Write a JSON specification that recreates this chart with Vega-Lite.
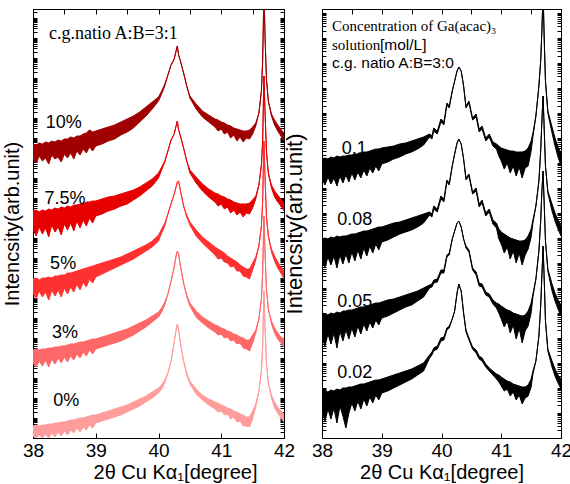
{
"$schema": "https://vega.github.io/schema/vega-lite/v6.json",
"padding": {"left": 2, "top": 8, "right": 5, "bottom": 5},
"config": {
  "view": {"stroke": "black", "strokeWidth": 1},
  "font": "Liberation Sans",
  "axis": {"domain": false, "grid": false, "tickColor": "black", "labelColor": "black", "titleColor": "black", "titleFontWeight": "normal", "labelFont": "Liberation Sans", "titleFont": "Liberation Sans"}
},
"spacing": 38,
"bounds": "flush",
"datasets": {
"left": [
{"s":"10%","x":38,"lo":279,"hi":294},{"s":"10%","x":38.05,"lo":275,"hi":293},{"s":"10%","x":38.1,"lo":282,"hi":295},{"s":"10%","x":38.15,"lo":277,"hi":294},{"s":"10%","x":38.2,"lo":280,"hi":296},{"s":"10%","x":38.25,"lo":274,"hi":295},{"s":"10%","x":38.3,"lo":283,"hi":297},{"s":"10%","x":38.35,"lo":279,"hi":296},{"s":"10%","x":38.4,"lo":281,"hi":298},{"s":"10%","x":38.45,"lo":276,"hi":297},{"s":"10%","x":38.5,"lo":284,"hi":299},{"s":"10%","x":38.55,"lo":280,"hi":299},{"s":"10%","x":38.6,"lo":285,"hi":301},{"s":"10%","x":38.65,"lo":279,"hi":300},{"s":"10%","x":38.7,"lo":287,"hi":302},{"s":"10%","x":38.75,"lo":283,"hi":302},{"s":"10%","x":38.8,"lo":289,"hi":304},{"s":"10%","x":38.85,"lo":285,"hi":305},{"s":"10%","x":38.9,"lo":291,"hi":308},{"s":"10%","x":38.95,"lo":287,"hi":306},{"s":"10%","x":39,"lo":292,"hi":307},{"s":"10%","x":39.1,"lo":294,"hi":309},{"s":"10%","x":39.2,"lo":297,"hi":311},{"s":"10%","x":39.3,"lo":299,"hi":313},{"s":"10%","x":39.4,"lo":303,"hi":316},{"s":"10%","x":39.5,"lo":306,"hi":319},{"s":"10%","x":39.6,"lo":310,"hi":322},{"s":"10%","x":39.7,"lo":316,"hi":326},{"s":"10%","x":39.8,"lo":322,"hi":331},{"s":"10%","x":39.9,"lo":329,"hi":336},{"s":"10%","x":40,"lo":337,"hi":341},{"s":"10%","x":40.05,"lo":344,"hi":347},{"s":"10%","x":40.1,"lo":352,"hi":354},{"s":"10%","x":40.15,"lo":363,"hi":363},{"s":"10%","x":40.2,"lo":373,"hi":373},{"s":"10%","x":40.25,"lo":379,"hi":379},{"s":"10%","x":40.28,"lo":387,"hi":387},{"s":"10%","x":40.3,"lo":392,"hi":392},{"s":"10%","x":40.32,"lo":383,"hi":383},{"s":"10%","x":40.35,"lo":377,"hi":377},{"s":"10%","x":40.4,"lo":365,"hi":365},{"s":"10%","x":40.45,"lo":352,"hi":352},{"s":"10%","x":40.5,"lo":340,"hi":342},{"s":"10%","x":40.6,"lo":329,"hi":334},{"s":"10%","x":40.7,"lo":321,"hi":327},{"s":"10%","x":40.8,"lo":316,"hi":323},{"s":"10%","x":40.9,"lo":311,"hi":319},{"s":"10%","x":40.95,"lo":307,"hi":318},{"s":"10%","x":41,"lo":309,"hi":316},{"s":"10%","x":41.05,"lo":304,"hi":315},{"s":"10%","x":41.1,"lo":306,"hi":313},{"s":"10%","x":41.15,"lo":300,"hi":312},{"s":"10%","x":41.2,"lo":303,"hi":310},{"s":"10%","x":41.25,"lo":297,"hi":309},{"s":"10%","x":41.3,"lo":301,"hi":308},{"s":"10%","x":41.35,"lo":296,"hi":307},{"s":"10%","x":41.4,"lo":300,"hi":307},{"s":"10%","x":41.45,"lo":299,"hi":308},{"s":"10%","x":41.5,"lo":304,"hi":311},{"s":"10%","x":41.55,"lo":312,"hi":315},{"s":"10%","x":41.6,"lo":325,"hi":325},{"s":"10%","x":41.64,"lo":347,"hi":347},{"s":"10%","x":41.66,"lo":377,"hi":377},{"s":"10%","x":41.68,"lo":447,"hi":447},{"s":"10%","x":41.7,"lo":397,"hi":397},{"s":"10%","x":41.72,"lo":359,"hi":359},{"s":"10%","x":41.75,"lo":337,"hi":337},{"s":"10%","x":41.8,"lo":322,"hi":324},{"s":"10%","x":41.85,"lo":313,"hi":318},{"s":"10%","x":41.9,"lo":307,"hi":313},{"s":"10%","x":41.95,"lo":302,"hi":309},{"s":"10%","x":42,"lo":297,"hi":304},
{"s":"7.5%","x":38,"lo":209,"hi":227},{"s":"7.5%","x":38.05,"lo":202,"hi":228},{"s":"7.5%","x":38.1,"lo":211,"hi":226},{"s":"7.5%","x":38.15,"lo":204,"hi":228},{"s":"7.5%","x":38.2,"lo":210,"hi":227},{"s":"7.5%","x":38.25,"lo":201,"hi":229},{"s":"7.5%","x":38.3,"lo":213,"hi":228},{"s":"7.5%","x":38.35,"lo":206,"hi":230},{"s":"7.5%","x":38.4,"lo":211,"hi":229},{"s":"7.5%","x":38.45,"lo":203,"hi":231},{"s":"7.5%","x":38.5,"lo":214,"hi":230},{"s":"7.5%","x":38.55,"lo":208,"hi":232},{"s":"7.5%","x":38.6,"lo":215,"hi":231},{"s":"7.5%","x":38.65,"lo":207,"hi":233},{"s":"7.5%","x":38.7,"lo":217,"hi":233},{"s":"7.5%","x":38.75,"lo":210,"hi":234},{"s":"7.5%","x":38.8,"lo":218,"hi":234},{"s":"7.5%","x":38.85,"lo":212,"hi":236},{"s":"7.5%","x":38.9,"lo":220,"hi":236},{"s":"7.5%","x":38.95,"lo":215,"hi":237},{"s":"7.5%","x":39,"lo":222,"hi":237},{"s":"7.5%","x":39.1,"lo":224,"hi":239},{"s":"7.5%","x":39.2,"lo":227,"hi":241},{"s":"7.5%","x":39.3,"lo":229,"hi":242},{"s":"7.5%","x":39.4,"lo":232,"hi":244},{"s":"7.5%","x":39.5,"lo":234,"hi":246},{"s":"7.5%","x":39.6,"lo":238,"hi":248},{"s":"7.5%","x":39.7,"lo":242,"hi":251},{"s":"7.5%","x":39.8,"lo":247,"hi":255},{"s":"7.5%","x":39.9,"lo":252,"hi":259},{"s":"7.5%","x":40,"lo":260,"hi":265},{"s":"7.5%","x":40.05,"lo":268,"hi":271},{"s":"7.5%","x":40.1,"lo":276,"hi":277},{"s":"7.5%","x":40.15,"lo":287,"hi":287},{"s":"7.5%","x":40.2,"lo":298,"hi":298},{"s":"7.5%","x":40.25,"lo":304,"hi":304},{"s":"7.5%","x":40.28,"lo":312,"hi":312},{"s":"7.5%","x":40.3,"lo":317,"hi":317},{"s":"7.5%","x":40.32,"lo":308,"hi":308},{"s":"7.5%","x":40.35,"lo":302,"hi":302},{"s":"7.5%","x":40.4,"lo":290,"hi":290},{"s":"7.5%","x":40.45,"lo":277,"hi":277},{"s":"7.5%","x":40.5,"lo":265,"hi":268},{"s":"7.5%","x":40.6,"lo":255,"hi":261},{"s":"7.5%","x":40.7,"lo":247,"hi":254},{"s":"7.5%","x":40.8,"lo":241,"hi":249},{"s":"7.5%","x":40.9,"lo":236,"hi":245},{"s":"7.5%","x":40.95,"lo":232,"hi":244},{"s":"7.5%","x":41,"lo":234,"hi":242},{"s":"7.5%","x":41.05,"lo":229,"hi":241},{"s":"7.5%","x":41.1,"lo":231,"hi":239},{"s":"7.5%","x":41.15,"lo":225,"hi":238},{"s":"7.5%","x":41.2,"lo":228,"hi":236},{"s":"7.5%","x":41.25,"lo":223,"hi":235},{"s":"7.5%","x":41.3,"lo":226,"hi":234},{"s":"7.5%","x":41.35,"lo":221,"hi":234},{"s":"7.5%","x":41.4,"lo":225,"hi":234},{"s":"7.5%","x":41.45,"lo":224,"hi":235},{"s":"7.5%","x":41.5,"lo":230,"hi":238},{"s":"7.5%","x":41.55,"lo":239,"hi":242},{"s":"7.5%","x":41.6,"lo":253,"hi":253},{"s":"7.5%","x":41.64,"lo":273,"hi":273},{"s":"7.5%","x":41.66,"lo":297,"hi":297},{"s":"7.5%","x":41.68,"lo":362,"hi":362},{"s":"7.5%","x":41.7,"lo":322,"hi":322},{"s":"7.5%","x":41.72,"lo":287,"hi":287},{"s":"7.5%","x":41.75,"lo":265,"hi":265},{"s":"7.5%","x":41.8,"lo":250,"hi":253},{"s":"7.5%","x":41.85,"lo":241,"hi":247},{"s":"7.5%","x":41.9,"lo":236,"hi":243},{"s":"7.5%","x":41.95,"lo":232,"hi":239},{"s":"7.5%","x":42,"lo":227,"hi":235},
{"s":"5%","x":38,"lo":145,"hi":159},{"s":"5%","x":38.05,"lo":139,"hi":160},{"s":"5%","x":38.1,"lo":147,"hi":158},{"s":"5%","x":38.15,"lo":141,"hi":160},{"s":"5%","x":38.2,"lo":146,"hi":160},{"s":"5%","x":38.25,"lo":138,"hi":161},{"s":"5%","x":38.3,"lo":148,"hi":160},{"s":"5%","x":38.35,"lo":142,"hi":162},{"s":"5%","x":38.4,"lo":148,"hi":162},{"s":"5%","x":38.45,"lo":141,"hi":163},{"s":"5%","x":38.5,"lo":150,"hi":163},{"s":"5%","x":38.55,"lo":144,"hi":165},{"s":"5%","x":38.6,"lo":151,"hi":165},{"s":"5%","x":38.65,"lo":146,"hi":166},{"s":"5%","x":38.7,"lo":154,"hi":167},{"s":"5%","x":38.75,"lo":148,"hi":168},{"s":"5%","x":38.8,"lo":156,"hi":169},{"s":"5%","x":38.85,"lo":151,"hi":170},{"s":"5%","x":38.9,"lo":159,"hi":171},{"s":"5%","x":38.95,"lo":155,"hi":172},{"s":"5%","x":39,"lo":161,"hi":173},{"s":"5%","x":39.1,"lo":164,"hi":175},{"s":"5%","x":39.2,"lo":167,"hi":177},{"s":"5%","x":39.3,"lo":170,"hi":179},{"s":"5%","x":39.4,"lo":173,"hi":181},{"s":"5%","x":39.5,"lo":176,"hi":184},{"s":"5%","x":39.6,"lo":179,"hi":187},{"s":"5%","x":39.7,"lo":183,"hi":190},{"s":"5%","x":39.8,"lo":187,"hi":193},{"s":"5%","x":39.9,"lo":191,"hi":197},{"s":"5%","x":40,"lo":197,"hi":203},{"s":"5%","x":40.05,"lo":205,"hi":209},{"s":"5%","x":40.1,"lo":212,"hi":215},{"s":"5%","x":40.15,"lo":224,"hi":224},{"s":"5%","x":40.2,"lo":234,"hi":234},{"s":"5%","x":40.25,"lo":244,"hi":244},{"s":"5%","x":40.28,"lo":251,"hi":251},{"s":"5%","x":40.3,"lo":256,"hi":256},{"s":"5%","x":40.32,"lo":257,"hi":257},{"s":"5%","x":40.35,"lo":247,"hi":247},{"s":"5%","x":40.4,"lo":232,"hi":232},{"s":"5%","x":40.45,"lo":221,"hi":223},{"s":"5%","x":40.5,"lo":213,"hi":216},{"s":"5%","x":40.6,"lo":202,"hi":208},{"s":"5%","x":40.7,"lo":195,"hi":201},{"s":"5%","x":40.8,"lo":189,"hi":196},{"s":"5%","x":40.9,"lo":183,"hi":191},{"s":"5%","x":40.95,"lo":179,"hi":189},{"s":"5%","x":41,"lo":180,"hi":187},{"s":"5%","x":41.05,"lo":176,"hi":185},{"s":"5%","x":41.1,"lo":175,"hi":182},{"s":"5%","x":41.15,"lo":171,"hi":180},{"s":"5%","x":41.2,"lo":172,"hi":178},{"s":"5%","x":41.25,"lo":167,"hi":176},{"s":"5%","x":41.3,"lo":167,"hi":173},{"s":"5%","x":41.35,"lo":162,"hi":171},{"s":"5%","x":41.4,"lo":161,"hi":169},{"s":"5%","x":41.45,"lo":159,"hi":169},{"s":"5%","x":41.5,"lo":168,"hi":175},{"s":"5%","x":41.55,"lo":178,"hi":181},{"s":"5%","x":41.6,"lo":192,"hi":192},{"s":"5%","x":41.64,"lo":212,"hi":212},{"s":"5%","x":41.66,"lo":237,"hi":237},{"s":"5%","x":41.68,"lo":297,"hi":297},{"s":"5%","x":41.7,"lo":257,"hi":257},{"s":"5%","x":41.72,"lo":222,"hi":222},{"s":"5%","x":41.75,"lo":202,"hi":202},{"s":"5%","x":41.8,"lo":186,"hi":189},{"s":"5%","x":41.85,"lo":177,"hi":182},{"s":"5%","x":41.9,"lo":170,"hi":176},{"s":"5%","x":41.95,"lo":165,"hi":171},{"s":"5%","x":42,"lo":159,"hi":167},
{"s":"3%","x":38,"lo":75,"hi":88},{"s":"3%","x":38.05,"lo":71,"hi":89},{"s":"3%","x":38.1,"lo":77,"hi":88},{"s":"3%","x":38.15,"lo":72,"hi":89},{"s":"3%","x":38.2,"lo":78,"hi":89},{"s":"3%","x":38.25,"lo":71,"hi":90},{"s":"3%","x":38.3,"lo":79,"hi":90},{"s":"3%","x":38.35,"lo":74,"hi":91},{"s":"3%","x":38.4,"lo":80,"hi":91},{"s":"3%","x":38.45,"lo":75,"hi":92},{"s":"3%","x":38.5,"lo":81,"hi":92},{"s":"3%","x":38.55,"lo":76,"hi":93},{"s":"3%","x":38.6,"lo":82,"hi":94},{"s":"3%","x":38.65,"lo":78,"hi":94},{"s":"3%","x":38.7,"lo":84,"hi":95},{"s":"3%","x":38.75,"lo":80,"hi":96},{"s":"3%","x":38.8,"lo":86,"hi":96},{"s":"3%","x":38.85,"lo":82,"hi":97},{"s":"3%","x":38.9,"lo":88,"hi":98},{"s":"3%","x":38.95,"lo":84,"hi":99},{"s":"3%","x":39,"lo":89,"hi":99},{"s":"3%","x":39.1,"lo":91,"hi":101},{"s":"3%","x":39.2,"lo":93,"hi":103},{"s":"3%","x":39.3,"lo":95,"hi":105},{"s":"3%","x":39.4,"lo":97,"hi":107},{"s":"3%","x":39.5,"lo":100,"hi":109},{"s":"3%","x":39.6,"lo":103,"hi":112},{"s":"3%","x":39.7,"lo":107,"hi":115},{"s":"3%","x":39.8,"lo":111,"hi":118},{"s":"3%","x":39.9,"lo":116,"hi":122},{"s":"3%","x":40,"lo":121,"hi":126},{"s":"3%","x":40.05,"lo":126,"hi":130},{"s":"3%","x":40.1,"lo":133,"hi":136},{"s":"3%","x":40.15,"lo":144,"hi":144},{"s":"3%","x":40.2,"lo":157,"hi":157},{"s":"3%","x":40.25,"lo":171,"hi":171},{"s":"3%","x":40.28,"lo":182,"hi":182},{"s":"3%","x":40.3,"lo":187,"hi":187},{"s":"3%","x":40.32,"lo":184,"hi":184},{"s":"3%","x":40.35,"lo":172,"hi":172},{"s":"3%","x":40.4,"lo":155,"hi":155},{"s":"3%","x":40.45,"lo":141,"hi":143},{"s":"3%","x":40.5,"lo":132,"hi":135},{"s":"3%","x":40.6,"lo":121,"hi":127},{"s":"3%","x":40.7,"lo":115,"hi":121},{"s":"3%","x":40.8,"lo":110,"hi":117},{"s":"3%","x":40.9,"lo":106,"hi":113},{"s":"3%","x":40.95,"lo":103,"hi":112},{"s":"3%","x":41,"lo":104,"hi":110},{"s":"3%","x":41.05,"lo":100,"hi":109},{"s":"3%","x":41.1,"lo":101,"hi":107},{"s":"3%","x":41.15,"lo":97,"hi":106},{"s":"3%","x":41.2,"lo":98,"hi":104},{"s":"3%","x":41.25,"lo":94,"hi":103},{"s":"3%","x":41.3,"lo":95,"hi":101},{"s":"3%","x":41.35,"lo":90,"hi":100},{"s":"3%","x":41.4,"lo":89,"hi":98},{"s":"3%","x":41.45,"lo":87,"hi":98},{"s":"3%","x":41.5,"lo":95,"hi":103},{"s":"3%","x":41.55,"lo":105,"hi":108},{"s":"3%","x":41.6,"lo":119,"hi":119},{"s":"3%","x":41.64,"lo":139,"hi":139},{"s":"3%","x":41.66,"lo":165,"hi":165},{"s":"3%","x":41.68,"lo":222,"hi":222},{"s":"3%","x":41.7,"lo":182,"hi":182},{"s":"3%","x":41.72,"lo":149,"hi":149},{"s":"3%","x":41.75,"lo":129,"hi":129},{"s":"3%","x":41.8,"lo":114,"hi":117},{"s":"3%","x":41.85,"lo":105,"hi":110},{"s":"3%","x":41.9,"lo":99,"hi":105},{"s":"3%","x":41.95,"lo":95,"hi":101},{"s":"3%","x":42,"lo":91,"hi":99},
{"s":"0%","x":38,"lo":2,"hi":12},{"s":"0%","x":38.05,"lo":0,"hi":13},{"s":"0%","x":38.1,"lo":3,"hi":12},{"s":"0%","x":38.15,"lo":0,"hi":13},{"s":"0%","x":38.2,"lo":4,"hi":13},{"s":"0%","x":38.25,"lo":0,"hi":14},{"s":"0%","x":38.3,"lo":5,"hi":14},{"s":"0%","x":38.35,"lo":1,"hi":15},{"s":"0%","x":38.4,"lo":6,"hi":15},{"s":"0%","x":38.45,"lo":2,"hi":16},{"s":"0%","x":38.5,"lo":7,"hi":16},{"s":"0%","x":38.55,"lo":3,"hi":17},{"s":"0%","x":38.6,"lo":8,"hi":18},{"s":"0%","x":38.65,"lo":5,"hi":18},{"s":"0%","x":38.7,"lo":10,"hi":19},{"s":"0%","x":38.75,"lo":6,"hi":20},{"s":"0%","x":38.8,"lo":11,"hi":20},{"s":"0%","x":38.85,"lo":8,"hi":21},{"s":"0%","x":38.9,"lo":13,"hi":22},{"s":"0%","x":38.95,"lo":10,"hi":23},{"s":"0%","x":39,"lo":15,"hi":23},{"s":"0%","x":39.1,"lo":17,"hi":25},{"s":"0%","x":39.2,"lo":19,"hi":27},{"s":"0%","x":39.3,"lo":21,"hi":29},{"s":"0%","x":39.4,"lo":23,"hi":31},{"s":"0%","x":39.5,"lo":26,"hi":33},{"s":"0%","x":39.6,"lo":29,"hi":36},{"s":"0%","x":39.7,"lo":32,"hi":39},{"s":"0%","x":39.8,"lo":36,"hi":42},{"s":"0%","x":39.9,"lo":40,"hi":46},{"s":"0%","x":40,"lo":45,"hi":50},{"s":"0%","x":40.05,"lo":49,"hi":53},{"s":"0%","x":40.1,"lo":55,"hi":58},{"s":"0%","x":40.15,"lo":65,"hi":65},{"s":"0%","x":40.2,"lo":77,"hi":77},{"s":"0%","x":40.25,"lo":96,"hi":96},{"s":"0%","x":40.28,"lo":108,"hi":108},{"s":"0%","x":40.3,"lo":114,"hi":114},{"s":"0%","x":40.32,"lo":108,"hi":108},{"s":"0%","x":40.35,"lo":95,"hi":95},{"s":"0%","x":40.4,"lo":77,"hi":77},{"s":"0%","x":40.45,"lo":63,"hi":65},{"s":"0%","x":40.5,"lo":54,"hi":57},{"s":"0%","x":40.6,"lo":44,"hi":49},{"s":"0%","x":40.7,"lo":38,"hi":43},{"s":"0%","x":40.8,"lo":33,"hi":39},{"s":"0%","x":40.9,"lo":29,"hi":36},{"s":"0%","x":40.95,"lo":26,"hi":35},{"s":"0%","x":41,"lo":27,"hi":33},{"s":"0%","x":41.05,"lo":23,"hi":32},{"s":"0%","x":41.1,"lo":24,"hi":30},{"s":"0%","x":41.15,"lo":19,"hi":29},{"s":"0%","x":41.2,"lo":21,"hi":27},{"s":"0%","x":41.25,"lo":16,"hi":26},{"s":"0%","x":41.3,"lo":17,"hi":24},{"s":"0%","x":41.35,"lo":12,"hi":23},{"s":"0%","x":41.4,"lo":12,"hi":21},{"s":"0%","x":41.45,"lo":11,"hi":21},{"s":"0%","x":41.5,"lo":19,"hi":27},{"s":"0%","x":41.55,"lo":31,"hi":34},{"s":"0%","x":41.6,"lo":47,"hi":47},{"s":"0%","x":41.64,"lo":67,"hi":67},{"s":"0%","x":41.66,"lo":92,"hi":92},{"s":"0%","x":41.68,"lo":147,"hi":147},{"s":"0%","x":41.7,"lo":107,"hi":107},{"s":"0%","x":41.72,"lo":75,"hi":75},{"s":"0%","x":41.75,"lo":55,"hi":55},{"s":"0%","x":41.8,"lo":40,"hi":43},{"s":"0%","x":41.85,"lo":30,"hi":36},{"s":"0%","x":41.9,"lo":25,"hi":31},{"s":"0%","x":41.95,"lo":20,"hi":27},{"s":"0%","x":42,"lo":16,"hi":24}
],
"right": [
{"s":"0.1","x":38,"lo":259,"hi":279},{"s":"0.1","x":38.05,"lo":253,"hi":280},{"s":"0.1","x":38.1,"lo":261,"hi":279},{"s":"0.1","x":38.15,"lo":254,"hi":281},{"s":"0.1","x":38.2,"lo":260,"hi":280},{"s":"0.1","x":38.25,"lo":252,"hi":282},{"s":"0.1","x":38.3,"lo":262,"hi":281},{"s":"0.1","x":38.35,"lo":255,"hi":282},{"s":"0.1","x":38.4,"lo":263,"hi":282},{"s":"0.1","x":38.45,"lo":256,"hi":283},{"s":"0.1","x":38.5,"lo":265,"hi":283},{"s":"0.1","x":38.55,"lo":258,"hi":284},{"s":"0.1","x":38.6,"lo":266,"hi":284},{"s":"0.1","x":38.65,"lo":260,"hi":285},{"s":"0.1","x":38.7,"lo":268,"hi":286},{"s":"0.1","x":38.75,"lo":262,"hi":286},{"s":"0.1","x":38.8,"lo":270,"hi":287},{"s":"0.1","x":38.85,"lo":265,"hi":288},{"s":"0.1","x":38.9,"lo":272,"hi":289},{"s":"0.1","x":38.95,"lo":267,"hi":289},{"s":"0.1","x":39,"lo":274,"hi":290},{"s":"0.1","x":39.1,"lo":276,"hi":291},{"s":"0.1","x":39.2,"lo":279,"hi":292},{"s":"0.1","x":39.3,"lo":281,"hi":294},{"s":"0.1","x":39.4,"lo":284,"hi":295},{"s":"0.1","x":39.5,"lo":286,"hi":297},{"s":"0.1","x":39.6,"lo":289,"hi":299},{"s":"0.1","x":39.7,"lo":293,"hi":301},{"s":"0.1","x":39.8,"lo":301,"hi":304},{"s":"0.1","x":39.84,"lo":299,"hi":302},{"s":"0.1","x":39.87,"lo":307,"hi":310},{"s":"0.1","x":39.93,"lo":304,"hi":307},{"s":"0.1","x":39.99,"lo":316,"hi":319},{"s":"0.1","x":40.04,"lo":313,"hi":316},{"s":"0.1","x":40.09,"lo":333,"hi":335},{"s":"0.1","x":40.13,"lo":330,"hi":332},{"s":"0.1","x":40.18,"lo":347,"hi":347},{"s":"0.1","x":40.22,"lo":357,"hi":357},{"s":"0.1","x":40.26,"lo":367,"hi":367},{"s":"0.1","x":40.29,"lo":371,"hi":371},{"s":"0.1","x":40.33,"lo":367,"hi":367},{"s":"0.1","x":40.37,"lo":352,"hi":352},{"s":"0.1","x":40.41,"lo":330,"hi":332},{"s":"0.1","x":40.46,"lo":335,"hi":337},{"s":"0.1","x":40.52,"lo":318,"hi":320},{"s":"0.1","x":40.58,"lo":321,"hi":324},{"s":"0.1","x":40.63,"lo":306,"hi":309},{"s":"0.1","x":40.68,"lo":309,"hi":312},{"s":"0.1","x":40.74,"lo":297,"hi":300},{"s":"0.1","x":40.8,"lo":301,"hi":304},{"s":"0.1","x":40.86,"lo":292,"hi":296},{"s":"0.1","x":40.92,"lo":289,"hi":294},{"s":"0.1","x":40.96,"lo":282,"hi":292},{"s":"0.1","x":41,"lo":277,"hi":290},{"s":"0.1","x":41.05,"lo":269,"hi":289},{"s":"0.1","x":41.1,"lo":275,"hi":288},{"s":"0.1","x":41.15,"lo":265,"hi":287},{"s":"0.1","x":41.2,"lo":272,"hi":287},{"s":"0.1","x":41.25,"lo":262,"hi":286},{"s":"0.1","x":41.3,"lo":271,"hi":286},{"s":"0.1","x":41.35,"lo":260,"hi":286},{"s":"0.1","x":41.4,"lo":270,"hi":287},{"s":"0.1","x":41.45,"lo":272,"hi":290},{"s":"0.1","x":41.5,"lo":287,"hi":297},{"s":"0.1","x":41.53,"lo":301,"hi":305},{"s":"0.1","x":41.58,"lo":322,"hi":322},{"s":"0.1","x":41.63,"lo":352,"hi":352},{"s":"0.1","x":41.66,"lo":377,"hi":377},{"s":"0.1","x":41.68,"lo":407,"hi":407},{"s":"0.1","x":41.7,"lo":447,"hi":447},{"s":"0.1","x":41.72,"lo":397,"hi":397},{"s":"0.1","x":41.74,"lo":357,"hi":357},{"s":"0.1","x":41.78,"lo":325,"hi":327},{"s":"0.1","x":41.85,"lo":305,"hi":311},{"s":"0.1","x":41.9,"lo":292,"hi":300},{"s":"0.1","x":41.95,"lo":281,"hi":291},{"s":"0.1","x":42,"lo":272,"hi":285},
{"s":"0.08","x":38,"lo":179,"hi":199},{"s":"0.08","x":38.05,"lo":171,"hi":200},{"s":"0.08","x":38.1,"lo":181,"hi":199},{"s":"0.08","x":38.15,"lo":173,"hi":201},{"s":"0.08","x":38.2,"lo":182,"hi":200},{"s":"0.08","x":38.25,"lo":170,"hi":202},{"s":"0.08","x":38.3,"lo":183,"hi":201},{"s":"0.08","x":38.35,"lo":174,"hi":202},{"s":"0.08","x":38.4,"lo":184,"hi":202},{"s":"0.08","x":38.45,"lo":175,"hi":203},{"s":"0.08","x":38.5,"lo":186,"hi":204},{"s":"0.08","x":38.55,"lo":177,"hi":204},{"s":"0.08","x":38.6,"lo":188,"hi":205},{"s":"0.08","x":38.65,"lo":179,"hi":206},{"s":"0.08","x":38.7,"lo":190,"hi":207},{"s":"0.08","x":38.75,"lo":182,"hi":207},{"s":"0.08","x":38.8,"lo":192,"hi":208},{"s":"0.08","x":38.85,"lo":185,"hi":209},{"s":"0.08","x":38.9,"lo":194,"hi":210},{"s":"0.08","x":38.95,"lo":188,"hi":211},{"s":"0.08","x":39,"lo":196,"hi":211},{"s":"0.08","x":39.1,"lo":198,"hi":213},{"s":"0.08","x":39.2,"lo":201,"hi":215},{"s":"0.08","x":39.3,"lo":204,"hi":216},{"s":"0.08","x":39.4,"lo":206,"hi":218},{"s":"0.08","x":39.5,"lo":208,"hi":220},{"s":"0.08","x":39.6,"lo":211,"hi":222},{"s":"0.08","x":39.7,"lo":215,"hi":224},{"s":"0.08","x":39.8,"lo":223,"hi":226},{"s":"0.08","x":39.84,"lo":221,"hi":224},{"s":"0.08","x":39.87,"lo":229,"hi":232},{"s":"0.08","x":39.93,"lo":226,"hi":229},{"s":"0.08","x":39.99,"lo":239,"hi":242},{"s":"0.08","x":40.04,"lo":236,"hi":239},{"s":"0.08","x":40.09,"lo":256,"hi":258},{"s":"0.08","x":40.13,"lo":253,"hi":255},{"s":"0.08","x":40.18,"lo":272,"hi":272},{"s":"0.08","x":40.22,"lo":284,"hi":284},{"s":"0.08","x":40.26,"lo":295,"hi":295},{"s":"0.08","x":40.29,"lo":299,"hi":299},{"s":"0.08","x":40.33,"lo":294,"hi":294},{"s":"0.08","x":40.37,"lo":279,"hi":279},{"s":"0.08","x":40.41,"lo":258,"hi":260},{"s":"0.08","x":40.46,"lo":262,"hi":264},{"s":"0.08","x":40.52,"lo":244,"hi":246},{"s":"0.08","x":40.58,"lo":247,"hi":250},{"s":"0.08","x":40.63,"lo":231,"hi":234},{"s":"0.08","x":40.68,"lo":235,"hi":238},{"s":"0.08","x":40.74,"lo":222,"hi":225},{"s":"0.08","x":40.8,"lo":226,"hi":229},{"s":"0.08","x":40.86,"lo":214,"hi":218},{"s":"0.08","x":40.92,"lo":210,"hi":215},{"s":"0.08","x":40.96,"lo":199,"hi":209},{"s":"0.08","x":41,"lo":194,"hi":206},{"s":"0.08","x":41.05,"lo":185,"hi":204},{"s":"0.08","x":41.1,"lo":191,"hi":202},{"s":"0.08","x":41.15,"lo":179,"hi":200},{"s":"0.08","x":41.2,"lo":187,"hi":199},{"s":"0.08","x":41.25,"lo":175,"hi":198},{"s":"0.08","x":41.3,"lo":185,"hi":197},{"s":"0.08","x":41.35,"lo":173,"hi":197},{"s":"0.08","x":41.4,"lo":183,"hi":198},{"s":"0.08","x":41.45,"lo":189,"hi":202},{"s":"0.08","x":41.5,"lo":201,"hi":209},{"s":"0.08","x":41.53,"lo":215,"hi":218},{"s":"0.08","x":41.58,"lo":232,"hi":232},{"s":"0.08","x":41.63,"lo":257,"hi":257},{"s":"0.08","x":41.66,"lo":287,"hi":287},{"s":"0.08","x":41.68,"lo":317,"hi":317},{"s":"0.08","x":41.7,"lo":342,"hi":342},{"s":"0.08","x":41.72,"lo":307,"hi":307},{"s":"0.08","x":41.74,"lo":272,"hi":272},{"s":"0.08","x":41.78,"lo":245,"hi":247},{"s":"0.08","x":41.85,"lo":227,"hi":234},{"s":"0.08","x":41.9,"lo":217,"hi":225},{"s":"0.08","x":41.95,"lo":209,"hi":218},{"s":"0.08","x":42,"lo":202,"hi":212},
{"s":"0.05","x":38,"lo":101,"hi":123},{"s":"0.05","x":38.05,"lo":92,"hi":124},{"s":"0.05","x":38.1,"lo":104,"hi":123},{"s":"0.05","x":38.15,"lo":94,"hi":125},{"s":"0.05","x":38.2,"lo":105,"hi":124},{"s":"0.05","x":38.25,"lo":90,"hi":126},{"s":"0.05","x":38.3,"lo":107,"hi":125},{"s":"0.05","x":38.35,"lo":97,"hi":127},{"s":"0.05","x":38.4,"lo":108,"hi":127},{"s":"0.05","x":38.45,"lo":99,"hi":128},{"s":"0.05","x":38.5,"lo":110,"hi":128},{"s":"0.05","x":38.55,"lo":101,"hi":129},{"s":"0.05","x":38.6,"lo":112,"hi":130},{"s":"0.05","x":38.65,"lo":104,"hi":131},{"s":"0.05","x":38.7,"lo":114,"hi":131},{"s":"0.05","x":38.75,"lo":107,"hi":132},{"s":"0.05","x":38.8,"lo":116,"hi":133},{"s":"0.05","x":38.85,"lo":110,"hi":134},{"s":"0.05","x":38.9,"lo":118,"hi":135},{"s":"0.05","x":38.95,"lo":113,"hi":135},{"s":"0.05","x":39,"lo":120,"hi":136},{"s":"0.05","x":39.1,"lo":122,"hi":138},{"s":"0.05","x":39.2,"lo":125,"hi":139},{"s":"0.05","x":39.3,"lo":128,"hi":141},{"s":"0.05","x":39.4,"lo":131,"hi":143},{"s":"0.05","x":39.5,"lo":133,"hi":145},{"s":"0.05","x":39.6,"lo":137,"hi":147},{"s":"0.05","x":39.7,"lo":141,"hi":150},{"s":"0.05","x":39.8,"lo":150,"hi":153},{"s":"0.05","x":39.84,"lo":151,"hi":154},{"s":"0.05","x":39.87,"lo":155,"hi":158},{"s":"0.05","x":39.93,"lo":156,"hi":159},{"s":"0.05","x":39.99,"lo":165,"hi":168},{"s":"0.05","x":40.04,"lo":165,"hi":168},{"s":"0.05","x":40.09,"lo":181,"hi":183},{"s":"0.05","x":40.13,"lo":183,"hi":185},{"s":"0.05","x":40.18,"lo":199,"hi":199},{"s":"0.05","x":40.22,"lo":207,"hi":207},{"s":"0.05","x":40.26,"lo":215,"hi":215},{"s":"0.05","x":40.29,"lo":217,"hi":217},{"s":"0.05","x":40.33,"lo":211,"hi":211},{"s":"0.05","x":40.37,"lo":199,"hi":199},{"s":"0.05","x":40.41,"lo":190,"hi":192},{"s":"0.05","x":40.46,"lo":186,"hi":188},{"s":"0.05","x":40.52,"lo":168,"hi":170},{"s":"0.05","x":40.58,"lo":163,"hi":166},{"s":"0.05","x":40.63,"lo":152,"hi":155},{"s":"0.05","x":40.68,"lo":151,"hi":154},{"s":"0.05","x":40.74,"lo":143,"hi":146},{"s":"0.05","x":40.8,"lo":141,"hi":144},{"s":"0.05","x":40.86,"lo":134,"hi":138},{"s":"0.05","x":40.92,"lo":130,"hi":135},{"s":"0.05","x":40.96,"lo":125,"hi":134},{"s":"0.05","x":41,"lo":119,"hi":132},{"s":"0.05","x":41.05,"lo":111,"hi":130},{"s":"0.05","x":41.1,"lo":117,"hi":128},{"s":"0.05","x":41.15,"lo":105,"hi":127},{"s":"0.05","x":41.2,"lo":113,"hi":125},{"s":"0.05","x":41.25,"lo":99,"hi":124},{"s":"0.05","x":41.3,"lo":110,"hi":123},{"s":"0.05","x":41.35,"lo":95,"hi":122},{"s":"0.05","x":41.4,"lo":107,"hi":123},{"s":"0.05","x":41.45,"lo":112,"hi":127},{"s":"0.05","x":41.5,"lo":125,"hi":135},{"s":"0.05","x":41.53,"lo":141,"hi":144},{"s":"0.05","x":41.58,"lo":159,"hi":159},{"s":"0.05","x":41.63,"lo":187,"hi":187},{"s":"0.05","x":41.66,"lo":217,"hi":217},{"s":"0.05","x":41.68,"lo":247,"hi":247},{"s":"0.05","x":41.7,"lo":267,"hi":267},{"s":"0.05","x":41.72,"lo":232,"hi":232},{"s":"0.05","x":41.74,"lo":197,"hi":197},{"s":"0.05","x":41.78,"lo":167,"hi":169},{"s":"0.05","x":41.85,"lo":147,"hi":154},{"s":"0.05","x":41.9,"lo":137,"hi":145},{"s":"0.05","x":41.95,"lo":129,"hi":138},{"s":"0.05","x":42,"lo":122,"hi":133},
{"s":"0.02","x":38,"lo":27,"hi":46},{"s":"0.02","x":38.05,"lo":17,"hi":47},{"s":"0.02","x":38.1,"lo":29,"hi":46},{"s":"0.02","x":38.15,"lo":19,"hi":48},{"s":"0.02","x":38.2,"lo":30,"hi":47},{"s":"0.02","x":38.25,"lo":15,"hi":49},{"s":"0.02","x":38.3,"lo":32,"hi":48},{"s":"0.02","x":38.35,"lo":22,"hi":50},{"s":"0.02","x":38.4,"lo":10,"hi":50},{"s":"0.02","x":38.45,"lo":25,"hi":51},{"s":"0.02","x":38.5,"lo":35,"hi":51},{"s":"0.02","x":38.55,"lo":27,"hi":52},{"s":"0.02","x":38.6,"lo":37,"hi":53},{"s":"0.02","x":38.65,"lo":29,"hi":54},{"s":"0.02","x":38.7,"lo":39,"hi":54},{"s":"0.02","x":38.75,"lo":32,"hi":55},{"s":"0.02","x":38.8,"lo":41,"hi":56},{"s":"0.02","x":38.85,"lo":35,"hi":57},{"s":"0.02","x":38.9,"lo":43,"hi":58},{"s":"0.02","x":38.95,"lo":38,"hi":58},{"s":"0.02","x":39,"lo":45,"hi":59},{"s":"0.02","x":39.1,"lo":47,"hi":61},{"s":"0.02","x":39.2,"lo":50,"hi":63},{"s":"0.02","x":39.3,"lo":53,"hi":65},{"s":"0.02","x":39.4,"lo":56,"hi":67},{"s":"0.02","x":39.5,"lo":59,"hi":69},{"s":"0.02","x":39.6,"lo":63,"hi":72},{"s":"0.02","x":39.7,"lo":67,"hi":75},{"s":"0.02","x":39.8,"lo":80,"hi":83},{"s":"0.02","x":39.84,"lo":83,"hi":86},{"s":"0.02","x":39.87,"lo":87,"hi":90},{"s":"0.02","x":39.93,"lo":89,"hi":92},{"s":"0.02","x":39.99,"lo":97,"hi":100},{"s":"0.02","x":40.04,"lo":98,"hi":101},{"s":"0.02","x":40.09,"lo":108,"hi":110},{"s":"0.02","x":40.13,"lo":110,"hi":112},{"s":"0.02","x":40.18,"lo":119,"hi":119},{"s":"0.02","x":40.22,"lo":127,"hi":127},{"s":"0.02","x":40.26,"lo":145,"hi":145},{"s":"0.02","x":40.29,"lo":154,"hi":154},{"s":"0.02","x":40.33,"lo":147,"hi":147},{"s":"0.02","x":40.37,"lo":125,"hi":125},{"s":"0.02","x":40.41,"lo":106,"hi":108},{"s":"0.02","x":40.46,"lo":98,"hi":100},{"s":"0.02","x":40.52,"lo":89,"hi":91},{"s":"0.02","x":40.58,"lo":85,"hi":88},{"s":"0.02","x":40.63,"lo":79,"hi":82},{"s":"0.02","x":40.68,"lo":77,"hi":80},{"s":"0.02","x":40.74,"lo":71,"hi":74},{"s":"0.02","x":40.8,"lo":67,"hi":70},{"s":"0.02","x":40.86,"lo":63,"hi":67},{"s":"0.02","x":40.92,"lo":59,"hi":64},{"s":"0.02","x":40.96,"lo":56,"hi":63},{"s":"0.02","x":41,"lo":52,"hi":61},{"s":"0.02","x":41.05,"lo":47,"hi":59},{"s":"0.02","x":41.1,"lo":49,"hi":57},{"s":"0.02","x":41.15,"lo":42,"hi":56},{"s":"0.02","x":41.2,"lo":46,"hi":54},{"s":"0.02","x":41.25,"lo":38,"hi":53},{"s":"0.02","x":41.3,"lo":43,"hi":52},{"s":"0.02","x":41.35,"lo":34,"hi":51},{"s":"0.02","x":41.4,"lo":40,"hi":51},{"s":"0.02","x":41.45,"lo":42,"hi":53},{"s":"0.02","x":41.5,"lo":51,"hi":59},{"s":"0.02","x":41.53,"lo":64,"hi":67},{"s":"0.02","x":41.58,"lo":77,"hi":77},{"s":"0.02","x":41.63,"lo":102,"hi":102},{"s":"0.02","x":41.66,"lo":132,"hi":132},{"s":"0.02","x":41.68,"lo":162,"hi":162},{"s":"0.02","x":41.7,"lo":192,"hi":192},{"s":"0.02","x":41.72,"lo":157,"hi":157},{"s":"0.02","x":41.74,"lo":117,"hi":117},{"s":"0.02","x":41.78,"lo":87,"hi":89},{"s":"0.02","x":41.85,"lo":71,"hi":77},{"s":"0.02","x":41.9,"lo":62,"hi":69},{"s":"0.02","x":41.95,"lo":55,"hi":63},{"s":"0.02","x":42,"lo":49,"hi":59}
],
"lsans": [{"x":38.49,"y":315,"t":"10%"},{"x":38.51,"y":239,"t":"7.5%"},{"x":38.48,"y":174,"t":"5%"},{"x":38.51,"y":105,"t":"3%"},{"x":38.53,"y":37,"t":"0%"}],
"lserif": [{"x":38.255,"y":404,"t":"c.g.natio A:B=3:1"}],
"rsans": [{"x":38.54,"y":289,"t":"0.1"},{"x":38.55,"y":218,"t":"0.08"},{"x":38.55,"y":136,"t":"0.05"},{"x":38.55,"y":65,"t":"0.02"}],
"rserif": [{"x":38.167,"y":412,"t":"Concentration of Ga(acac)₃"},{"x":38.167,"y":393,"t":"solution"}],
"rsansl": [{"x":38.97,"y":393,"t":"[mol/L]"},{"x":38.167,"y":375,"t":"c.g. natio A:B=3:0"}],
"help": [{"v":1,"x":40}]
},
"hconcat": [
{
  "width": 251, "height": 429,
  "resolve": {"scale": {"y": "independent"}, "axis": {"x": "independent"}},
  "layer": [
    {
      "data": {"name": "left"},
      "mark": {"type": "area", "strokeWidth": 1, "fillOpacity": 1, "clip": true},
      "encoding": {
        "x": {"field": "x", "type": "quantitative", "scale": {"domain": [38, 42], "nice": false, "zero": false},
              "axis": {"orient": "bottom", "values": [38, 38.5, 39, 39.5, 40, 40.5, 41, 41.5, 42], "format": "d", "labelExpr": "datum.value % 1 === 0 ? datum.label : ''", "tickSize": -5, "labelPadding": 8, "labelFontSize": 19, "labelFlush": false, "labelOverlap": false, "title": "2θ Cu Kα₁[degree]", "titleFontSize": 20, "titlePadding": 2, "titleX": 142}},
        "y": {"field": "lo", "type": "quantitative", "scale": {"domain": [0, 429], "nice": false, "zero": false}, "axis": null},
        "y2": {"field": "hi"},
        "fill": {"field": "s", "type": "nominal", "scale": {"domain": ["10%", "7.5%", "5%", "3%", "0%"], "range": ["#a00000", "#e60000", "#ff3030", "#ff6868", "#ff9d9d"]}, "legend": null},
        "stroke": {"field": "s", "type": "nominal", "scale": {"domain": ["10%", "7.5%", "5%", "3%", "0%"], "range": ["#a00000", "#e60000", "#ff3030", "#ff6868", "#ff9d9d"]}, "legend": null}
      }
    },
    {
      "data": {"name": "lsans"},
      "mark": {"type": "text", "fontSize": 18, "align": "center", "baseline": "middle", "color": "black"},
      "encoding": {
        "x": {"field": "x", "type": "quantitative", "axis": null},
        "y": {"field": "y", "type": "quantitative", "scale": {"domain": [0, 429], "nice": false, "zero": false}, "axis": null},
        "text": {"field": "t"}
      }
    },
    {
      "data": {"name": "lserif"},
      "mark": {"type": "text", "fontSize": 18, "font": "Liberation Serif", "align": "left", "baseline": "middle", "color": "black"},
      "encoding": {
        "x": {"field": "x", "type": "quantitative", "axis": null},
        "y": {"field": "y", "type": "quantitative", "scale": {"domain": [0, 429], "nice": false, "zero": false}, "axis": null},
        "text": {"field": "t"}
      }
    },
    {
      "data": {"name": "help"},
      "mark": {"type": "point", "opacity": 0},
      "encoding": {
        "y": {"field": "v", "type": "quantitative", "scale": {"type": "log", "domain": [1, 2.8e21], "nice": false},
              "axis": {"orient": "left", "labels": false, "tickCount": 1000, "tickSize": -4, "title": "Intencsity(arb.unit)", "titleFontSize": 20, "titlePadding": 10,
                "values": [1e0,2e0,3e0,4e0,5e0,6e0,7e0,8e0,9e0,1e1,2e1,3e1,4e1,5e1,6e1,7e1,8e1,9e1,1e2,2e2,3e2,4e2,5e2,6e2,7e2,8e2,9e2,1e3,2e3,3e3,4e3,5e3,6e3,7e3,8e3,9e3,1e4,2e4,3e4,4e4,5e4,6e4,7e4,8e4,9e4,1e5,2e5,3e5,4e5,5e5,6e5,7e5,8e5,9e5,1e6,2e6,3e6,4e6,5e6,6e6,7e6,8e6,9e6,1e7,2e7,3e7,4e7,5e7,6e7,7e7,8e7,9e7,1e8,2e8,3e8,4e8,5e8,6e8,7e8,8e8,9e8,1e9,2e9,3e9,4e9,5e9,6e9,7e9,8e9,9e9,1e10,2e10,3e10,4e10,5e10,6e10,7e10,8e10,9e10,1e11,2e11,3e11,4e11,5e11,6e11,7e11,8e11,9e11,1e12,2e12,3e12,4e12,5e12,6e12,7e12,8e12,9e12,1e13,2e13,3e13,4e13,5e13,6e13,7e13,8e13,9e13,1e14,2e14,3e14,4e14,5e14,6e14,7e14,8e14,9e14,1e15,2e15,3e15,4e15,5e15,6e15,7e15,8e15,9e15,1e16,2e16,3e16,4e16,5e16,6e16,7e16,8e16,9e16,1e17,2e17,3e17,4e17,5e17,6e17,7e17,8e17,9e17,1e18,2e18,3e18,4e18,5e18,6e18,7e18,8e18,9e18,1e19,2e19,3e19,4e19,5e19,6e19,7e19,8e19,9e19,1e20,2e20,3e20,4e20,5e20,6e20,7e20,8e20,9e20,1e21,2e21]}}
      }
    },
    {
      "data": {"name": "help"},
      "mark": {"type": "point", "opacity": 0},
      "encoding": {
        "x": {"field": "x", "type": "quantitative", "axis": {"orient": "top", "labels": false, "values": [38, 38.5, 39, 39.5, 40, 40.5, 41, 41.5, 42], "tickSize": -5, "title": null}},
        "y": {"field": "v", "type": "quantitative", "scale": {"type": "log", "domain": [1, 2.8e21], "nice": false},
              "axis": {"orient": "right", "labels": false, "tickCount": 1000, "tickSize": -4, "title": null,
                "values": [1e0,2e0,3e0,4e0,5e0,6e0,7e0,8e0,9e0,1e1,2e1,3e1,4e1,5e1,6e1,7e1,8e1,9e1,1e2,2e2,3e2,4e2,5e2,6e2,7e2,8e2,9e2,1e3,2e3,3e3,4e3,5e3,6e3,7e3,8e3,9e3,1e4,2e4,3e4,4e4,5e4,6e4,7e4,8e4,9e4,1e5,2e5,3e5,4e5,5e5,6e5,7e5,8e5,9e5,1e6,2e6,3e6,4e6,5e6,6e6,7e6,8e6,9e6,1e7,2e7,3e7,4e7,5e7,6e7,7e7,8e7,9e7,1e8,2e8,3e8,4e8,5e8,6e8,7e8,8e8,9e8,1e9,2e9,3e9,4e9,5e9,6e9,7e9,8e9,9e9,1e10,2e10,3e10,4e10,5e10,6e10,7e10,8e10,9e10,1e11,2e11,3e11,4e11,5e11,6e11,7e11,8e11,9e11,1e12,2e12,3e12,4e12,5e12,6e12,7e12,8e12,9e12,1e13,2e13,3e13,4e13,5e13,6e13,7e13,8e13,9e13,1e14,2e14,3e14,4e14,5e14,6e14,7e14,8e14,9e14,1e15,2e15,3e15,4e15,5e15,6e15,7e15,8e15,9e15,1e16,2e16,3e16,4e16,5e16,6e16,7e16,8e16,9e16,1e17,2e17,3e17,4e17,5e17,6e17,7e17,8e17,9e17,1e18,2e18,3e18,4e18,5e18,6e18,7e18,8e18,9e18,1e19,2e19,3e19,4e19,5e19,6e19,7e19,8e19,9e19,1e20,2e20,3e20,4e20,5e20,6e20,7e20,8e20,9e20,1e21,2e21]}}
      }
    }
  ]
},
{
  "width": 239, "height": 429,
  "resolve": {"scale": {"y": "independent"}, "axis": {"x": "independent"}},
  "layer": [
    {
      "data": {"name": "right"},
      "mark": {"type": "area", "strokeWidth": 1, "fill": "black", "stroke": "black", "fillOpacity": 1, "clip": true},
      "encoding": {
        "x": {"field": "x", "type": "quantitative", "scale": {"domain": [38, 42], "nice": false, "zero": false},
              "axis": {"orient": "bottom", "values": [38, 38.5, 39, 39.5, 40, 40.5, 41, 41.5, 42], "format": "d", "labelExpr": "datum.value % 1 === 0 ? datum.label : ''", "tickSize": -5, "labelPadding": 8, "labelFontSize": 19, "labelFlush": false, "labelOverlap": false, "title": "2θ Cu Kα₁[degree]", "titleFontSize": 20, "titlePadding": 2}},
        "y": {"field": "lo", "type": "quantitative", "scale": {"domain": [0, 429], "nice": false, "zero": false}, "axis": null},
        "y2": {"field": "hi"},
        "detail": {"field": "s", "type": "nominal"}
      }
    },
    {
      "data": {"name": "rsans"},
      "mark": {"type": "text", "fontSize": 18, "align": "center", "baseline": "middle", "color": "black"},
      "encoding": {
        "x": {"field": "x", "type": "quantitative", "axis": null},
        "y": {"field": "y", "type": "quantitative", "scale": {"domain": [0, 429], "nice": false, "zero": false}, "axis": null},
        "text": {"field": "t"}
      }
    },
    {
      "data": {"name": "rserif"},
      "mark": {"type": "text", "fontSize": 15, "font": "Liberation Serif", "align": "left", "baseline": "middle", "color": "black"},
      "encoding": {
        "x": {"field": "x", "type": "quantitative", "axis": null},
        "y": {"field": "y", "type": "quantitative", "scale": {"domain": [0, 429], "nice": false, "zero": false}, "axis": null},
        "text": {"field": "t"}
      }
    },
    {
      "data": {"name": "rsansl"},
      "mark": {"type": "text", "fontSize": 15.5, "align": "left", "baseline": "middle", "color": "black"},
      "encoding": {
        "x": {"field": "x", "type": "quantitative", "axis": null},
        "y": {"field": "y", "type": "quantitative", "scale": {"domain": [0, 429], "nice": false, "zero": false}, "axis": null},
        "text": {"field": "t"}
      }
    },
    {
      "data": {"name": "help"},
      "mark": {"type": "point", "opacity": 0},
      "encoding": {
        "y": {"field": "v", "type": "quantitative", "scale": {"type": "log", "domain": [1, 1.45e17], "nice": false},
              "axis": {"orient": "left", "labels": false, "tickCount": 1000, "tickSize": -4, "title": "Intencsity(arb.unit)", "titleFontSize": 22, "titlePadding": 15,
                "values": [1e0,2e0,3e0,4e0,5e0,6e0,7e0,8e0,9e0,1e1,2e1,3e1,4e1,5e1,6e1,7e1,8e1,9e1,1e2,2e2,3e2,4e2,5e2,6e2,7e2,8e2,9e2,1e3,2e3,3e3,4e3,5e3,6e3,7e3,8e3,9e3,1e4,2e4,3e4,4e4,5e4,6e4,7e4,8e4,9e4,1e5,2e5,3e5,4e5,5e5,6e5,7e5,8e5,9e5,1e6,2e6,3e6,4e6,5e6,6e6,7e6,8e6,9e6,1e7,2e7,3e7,4e7,5e7,6e7,7e7,8e7,9e7,1e8,2e8,3e8,4e8,5e8,6e8,7e8,8e8,9e8,1e9,2e9,3e9,4e9,5e9,6e9,7e9,8e9,9e9,1e10,2e10,3e10,4e10,5e10,6e10,7e10,8e10,9e10,1e11,2e11,3e11,4e11,5e11,6e11,7e11,8e11,9e11,1e12,2e12,3e12,4e12,5e12,6e12,7e12,8e12,9e12,1e13,2e13,3e13,4e13,5e13,6e13,7e13,8e13,9e13,1e14,2e14,3e14,4e14,5e14,6e14,7e14,8e14,9e14,1e15,2e15,3e15,4e15,5e15,6e15,7e15,8e15,9e15,1e16,2e16,3e16,4e16,5e16,6e16,7e16,8e16,9e16,1e17]}}
      }
    },
    {
      "data": {"name": "help"},
      "mark": {"type": "point", "opacity": 0},
      "encoding": {
        "x": {"field": "x", "type": "quantitative", "axis": {"orient": "top", "labels": false, "values": [38, 38.5, 39, 39.5, 40, 40.5, 41, 41.5, 42], "tickSize": -5, "title": null}},
        "y": {"field": "v", "type": "quantitative", "scale": {"type": "log", "domain": [1, 1.45e17], "nice": false},
              "axis": {"orient": "right", "labels": false, "tickCount": 1000, "tickSize": -4, "title": null,
                "values": [1e0,2e0,3e0,4e0,5e0,6e0,7e0,8e0,9e0,1e1,2e1,3e1,4e1,5e1,6e1,7e1,8e1,9e1,1e2,2e2,3e2,4e2,5e2,6e2,7e2,8e2,9e2,1e3,2e3,3e3,4e3,5e3,6e3,7e3,8e3,9e3,1e4,2e4,3e4,4e4,5e4,6e4,7e4,8e4,9e4,1e5,2e5,3e5,4e5,5e5,6e5,7e5,8e5,9e5,1e6,2e6,3e6,4e6,5e6,6e6,7e6,8e6,9e6,1e7,2e7,3e7,4e7,5e7,6e7,7e7,8e7,9e7,1e8,2e8,3e8,4e8,5e8,6e8,7e8,8e8,9e8,1e9,2e9,3e9,4e9,5e9,6e9,7e9,8e9,9e9,1e10,2e10,3e10,4e10,5e10,6e10,7e10,8e10,9e10,1e11,2e11,3e11,4e11,5e11,6e11,7e11,8e11,9e11,1e12,2e12,3e12,4e12,5e12,6e12,7e12,8e12,9e12,1e13,2e13,3e13,4e13,5e13,6e13,7e13,8e13,9e13,1e14,2e14,3e14,4e14,5e14,6e14,7e14,8e14,9e14,1e15,2e15,3e15,4e15,5e15,6e15,7e15,8e15,9e15,1e16,2e16,3e16,4e16,5e16,6e16,7e16,8e16,9e16,1e17]}}
      }
    }
  ]
}
]
}
